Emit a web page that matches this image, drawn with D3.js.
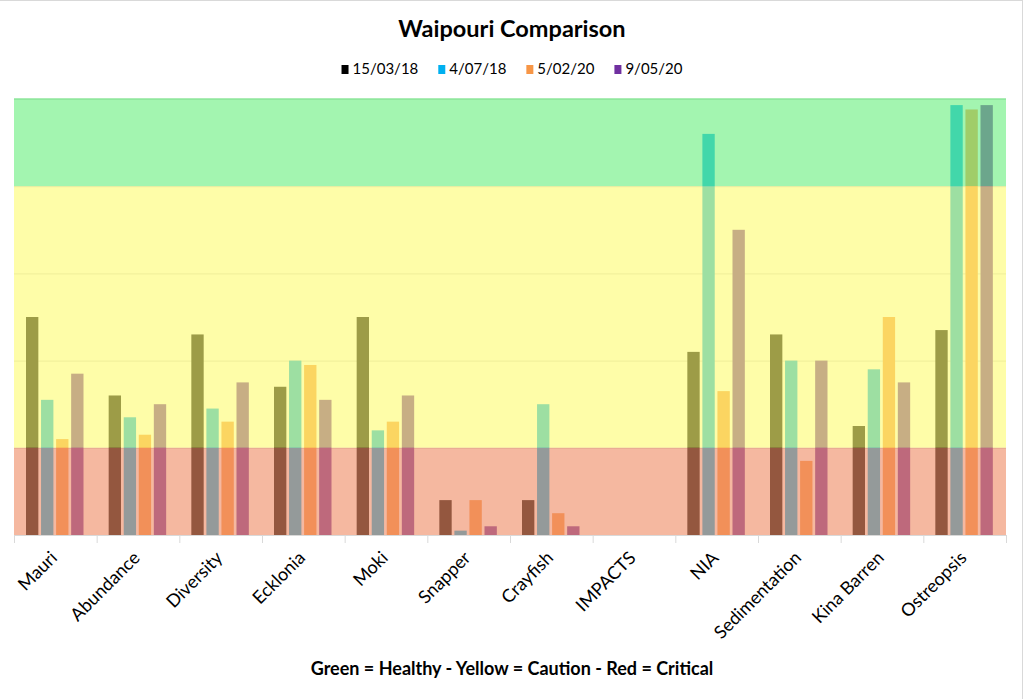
<!DOCTYPE html>
<html lang="en">
<head>
<meta charset="utf-8">
<title>Waipouri Comparison</title>
<script src="https://cdn.jsdelivr.net/npm/d3@7"></script>
<style>
  body { margin: 0; background: #fff; }
  text { font-family: Lato, "Open Sans", sans-serif; }
</style>
</head>
<body></body>
<script type="text/javascript">

//************************************************************//
// Data

var categories = ["Mauri", "Abundance", "Diversity", "Ecklonia", "Moki", "Snapper",
                  "Crayfish", "IMPACTS", "NIA", "Sedimentation", "Kina Barren", "Ostreopsis"];

var seriesNames = ["15/03/18", "4/07/18", "5/02/20", "9/05/20"];
var seriesColors = ["#000000", "#00B0F0", "#F79646", "#7030A0"];

var s150318 = [2.5, 1.6, 2.3, 1.7, 2.5, 0.4, 0.4, null, 2.1, 2.3, 1.25, 2.35];
var s040718 = [1.55, 1.35, 1.45, 2.0, 1.2, 0.05, 1.5, null, 4.6, 2.0, 1.9, 4.93];
var s050220 = [1.1, 1.15, 1.3, 1.95, 1.3, 0.4, 0.25, null, 1.65, 0.85, 2.5, 4.88];
var s090520 = [1.85, 1.5, 1.75, 1.55, 1.6, 0.1, 0.1, null, 3.5, 2.0, 1.75, 4.93];
var seriesValues = [s150318, s040718, s050220, s090520];

var yTicks = [0, 1, 2, 3, 4, 5];

// zones: healthy, caution, critical
var zoneLimits = [[4, 5], [1, 4], [0, 1]];
var zoneColors = ["#6BEF80", "#FDFC73", "#EF8C66"];

//************************************************************//
// Canvas

var width = 1024,
    height = 699;

var canvas = d3.select("body")
            .append("svg")
            .attr("width", width)
            .attr("height", height);

canvas.append("rect")
        .attr("width", width)
        .attr("height", height)
        .attr("fill", "white");

canvas.append("rect")
        .attr("x", -2)
        .attr("y", 0.5)
        .attr("width", 1024.5)
        .attr("height", 702)
        .attr("fill", "none")
        .attr("stroke", "#D9D9D9");

var plot = { left: 14, right: 1006, top: 99, bottom: 535 };

var x0 = d3.scaleBand()
            .domain(categories)
            .range([plot.left, plot.right])
            .padding(0);

var x1 = d3.scaleBand()
            .domain(seriesNames)
            .range([12, 69.5])
            .paddingInner(0.18);

var y = d3.scaleLinear()
            .domain([0, 5])
            .range([plot.bottom, plot.top]);

//************************************************************//
// Grid

canvas.append("g")
        .selectAll("line")
        .data(yTicks.slice(1))
        .enter().append("line")
        .attr("x1", plot.left)
        .attr("x2", plot.right)
        .attr("y1", function(d){ return y(d) + 0.5; })
        .attr("y2", function(d){ return y(d) + 0.5; })
        .attr("stroke", "#D9D9D9");

//************************************************************//
// Bars

var groups = canvas.append("g")
        .selectAll("g")
        .data(categories)
        .enter().append("g")
        .attr("transform", function(d){ return "translate(" + x0(d) + ",0)"; });

groups.selectAll("rect")
        .data(function(d, i){
            return seriesNames.map(function(s, j){ return { series: s, value: seriesValues[j][i], color: seriesColors[j] }; })
                              .filter(function(e){ return e.value != null; });
        })
        .enter().append("rect")
        .attr("x", function(d){ return x1(d.series); })
        .attr("y", function(d){ return y(d.value); })
        .attr("width", x1.bandwidth())
        .attr("height", function(d){ return y(0) - y(d.value); })
        .attr("fill", function(d){ return d.color; });

//************************************************************//
// Zones (drawn over the bars, semi transparent)

canvas.append("g")
        .selectAll("rect")
        .data(zoneLimits)
        .enter().append("rect")
        .attr("x", plot.left)
        .attr("width", plot.right - plot.left)
        .attr("y", function(d){ return y(d[1]); })
        .attr("height", function(d){ return y(d[0]) - y(d[1]); })
        .attr("fill", function(d, i){ return zoneColors[i]; })
        .attr("fill-opacity", 0.62);

canvas.append("line")
        .attr("x1", plot.left)
        .attr("x2", plot.right)
        .attr("y1", y(5))
        .attr("y2", y(5))
        .attr("stroke", "#8FE79D")
        .attr("stroke-width", 1.5);

//************************************************************//
// Axis

var xAxis = canvas.append("g");

xAxis.append("line")
        .attr("x1", plot.left)
        .attr("x2", plot.right)
        .attr("y1", plot.bottom + 0.5)
        .attr("y2", plot.bottom + 0.5)
        .attr("stroke", "#D9D9D9");

xAxis.selectAll(".tick")
        .data(categories.concat([null]))
        .enter().append("line")
        .attr("x1", function(d, i){ return plot.left + i*x0.step() + 0.5; })
        .attr("x2", function(d, i){ return plot.left + i*x0.step() + 0.5; })
        .attr("y1", plot.bottom)
        .attr("y2", plot.bottom + 8)
        .attr("stroke", "#D9D9D9");

xAxis.selectAll("text")
        .data(categories)
        .enter().append("text")
        .attr("transform", function(d){ return "translate(" + (x0(d) + x0.bandwidth()/2 + 3) + "," + (plot.bottom + 24) + ") rotate(-45)"; })
        .attr("text-anchor", "end")
        .style("font-size", "18px")
        .attr("fill", "#000")
        .text(function(d){ return d; });

//************************************************************//
// Title, legend, footer

canvas.append("text")
        .attr("x", 512)
        .attr("y", 37)
        .attr("text-anchor", "middle")
        .style("font-size", "23.5px")
        .style("font-weight", "bold")
        .text("Waipouri Comparison");

var legend = canvas.append("g");
var lx = 0;
seriesNames.forEach(function(s, i){
    var item = legend.append("g").attr("transform", "translate(" + lx + ",0)");
    item.append("rect")
        .attr("x", 0)
        .attr("y", 65)
        .attr("width", 7)
        .attr("height", 9)
        .attr("fill", seriesColors[i]);
    var t = item.append("text")
        .attr("x", 11)
        .attr("y", 74)
        .style("font-size", "15px")
        .text(s);
    lx += 11 + t.node().getComputedTextLength() + 20;
});
lx -= 20;
legend.attr("transform", "translate(" + (512 - lx/2) + ",0)");

canvas.append("text")
        .attr("x", 512)
        .attr("y", 675)
        .attr("text-anchor", "middle")
        .style("font-size", "18px")
        .style("font-weight", "bold")
        .text("Green = Healthy - Yellow = Caution - Red = Critical");

</script>
</html>
